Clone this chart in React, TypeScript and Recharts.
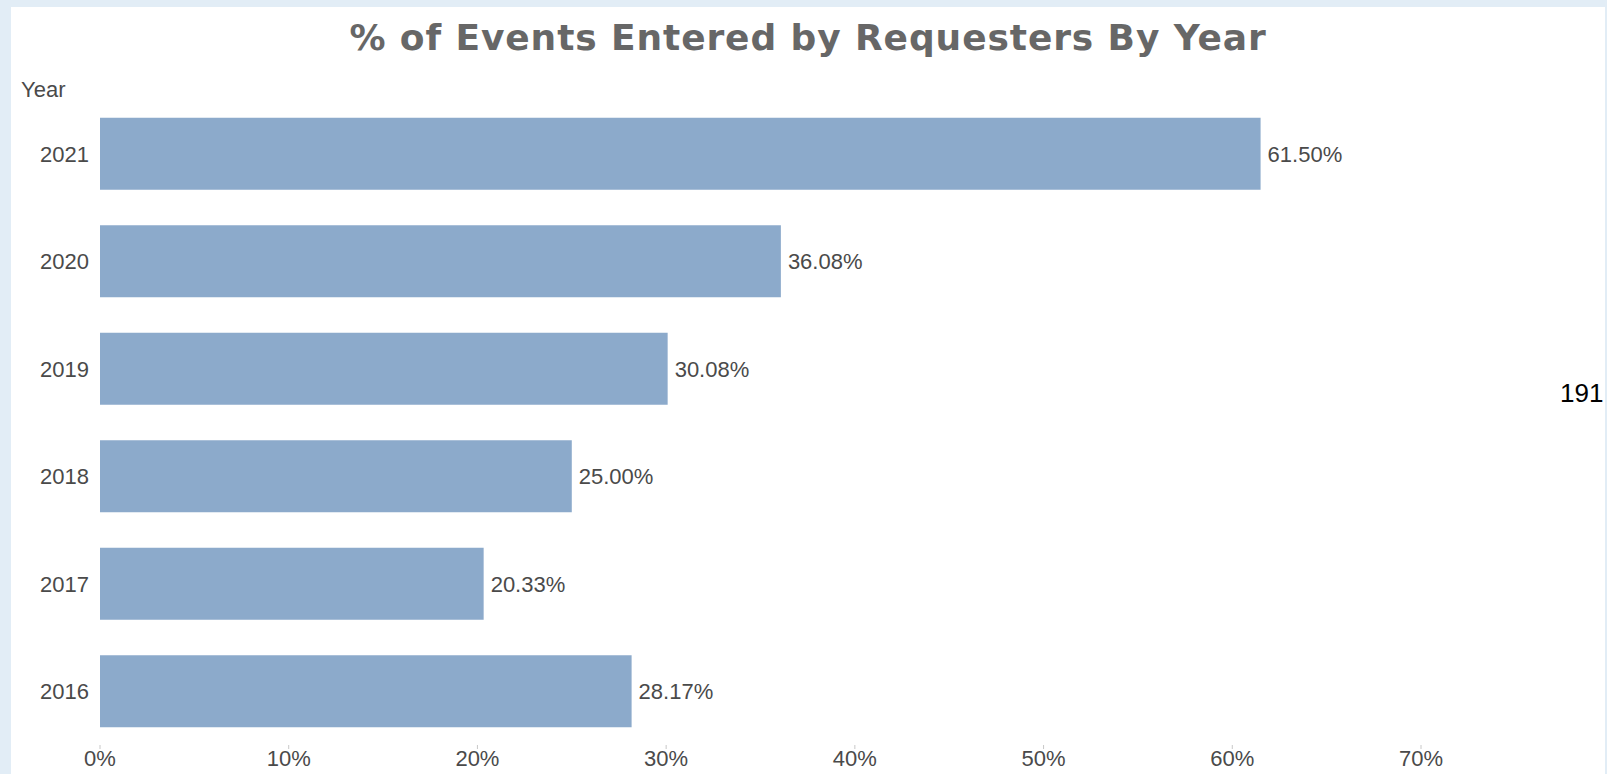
import React from 'react';
import { BarChart, Bar, XAxis, YAxis, LabelList } from 'recharts';

const years = ['2021', '2020', '2019', '2018', '2017', '2016'];
const percents = [61.5, 36.08, 30.08, 25.0, 20.33, 28.17];
const xTicks = [0, 10, 20, 30, 40, 50, 60, 70];
const titleText = '% of Events Entered by Requesters By Year';
const axisTitle = 'Year';
const sideNumber = '191';

const data = years.map((y, i) => ({ year: y, pct: percents[i] }));

const FONT = "'Liberation Sans', Arial, sans-serif";

export default function App() {
  return (
    <div style={{ position: 'absolute', left: 0, top: 0, width: 1607, height: 774, background: '#e2edf6', overflow: 'hidden' }}>
      <div style={{ position: 'absolute', left: 11, top: 7, width: 1594, height: 767, background: '#ffffff' }} />
      <div style={{ position: 'absolute', left: 308, top: 16, width: 1000, textAlign: 'center', fontFamily: "'DejaVu Sans', Verdana, sans-serif", fontWeight: 'bold', fontSize: 36, letterSpacing: 0.9, color: '#676767', whiteSpace: 'nowrap', lineHeight: '44px' }}>
        {titleText}
      </div>
      <div style={{ position: 'absolute', left: 21, top: 77, fontFamily: FONT, fontSize: 22, color: '#4a4a4a', lineHeight: '26px' }}>
        {axisTitle}
      </div>
      <div style={{ position: 'absolute', left: 1560, top: 378, fontFamily: FONT, fontSize: 26, color: '#000000', lineHeight: '30px' }}>
        {sideNumber}
      </div>
      <div style={{ position: 'absolute', left: 0, top: 0 }}>
        <BarChart width={1607} height={774} data={data} layout="vertical" margin={{ top: 100, right: 186, bottom: 0, left: 0 }} barCategoryGap="16.5%">
          <XAxis
            type="number"
            domain={[0, 70]}
            ticks={xTicks}
            interval={0}
            height={29}
            axisLine={false}
            tickLine={{ stroke: '#c8c8c8' }}
            tickSize={4}
            tickMargin={1}
            tickFormatter={(v: number) => `${v}%`}
            tick={{ fontFamily: FONT, fontSize: 22, fill: '#4a4a4a' }}
          />
          <YAxis
            type="category"
            dataKey="year"
            width={100}
            axisLine={false}
            tickLine={false}
            tickSize={0}
            tickMargin={11}
            tick={{ fontFamily: FONT, fontSize: 22, fill: '#4a4a4a' }}
          />
          <Bar dataKey="pct" fill="#8caacb" isAnimationActive={false}>
            <LabelList
              dataKey="pct"
              position="right"
              offset={7}
              formatter={(v: number) => `${v.toFixed(2)}%`}
              style={{ fontFamily: FONT, fontSize: 22, fill: '#4a4a4a' }}
            />
          </Bar>
        </BarChart>
      </div>
    </div>
  );
}
